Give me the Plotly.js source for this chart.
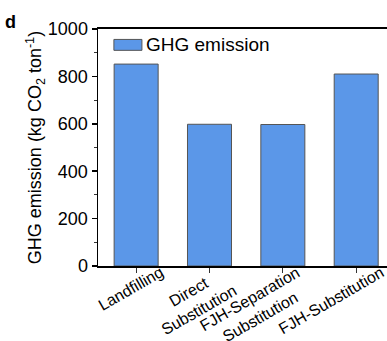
<!DOCTYPE html>
<html>
<head>
<meta charset="utf-8">
<script src="https://cdn.plot.ly/plotly-3.0.1.min.js"></script>
<style>html,body{margin:0;padding:0;background:#fff;}#chart{width:387px;height:341px;}</style>
</head>
<body>
<div id="chart"></div>
<script>
var categories = ["Landfilling", "Direct Substitution", "FJH-Separation Substitution", "FJH-Substitution"];
var categoryLabels = ["Landfilling", "Direct<br>Substitution", "FJH-Separation<br>Substitution", "FJH-Substitution"];
var ghgEmission = [852, 598, 597, 810];
var seriesName = "GHG emission";
var yTickVals = [0, 200, 400, 600, 800, 1000];
var yTickText = ["0", "200", "400", "600", "800", "1000"];

var font = "'Liberation Sans', Arial, sans-serif";
var barColor = "#5b97e8";
var barLine = "#555555";

var data = [{
  type: "bar",
  x: categories,
  y: ghgEmission,
  name: seriesName,
  width: 0.6,
  marker: {color: barColor, line: {color: barLine, width: 1}},
  showlegend: false
}];

var annotations = categories.map(function (c, i) {
  return {
    text: categoryLabels[i], xref: "x", yref: "paper", x: c, y: 0.022,
    xanchor: "right", yanchor: "top", xshift: 33, textangle: -30, align: "center",
    showarrow: false, font: {size: 16, family: font, color: "#000"}
  };
});
annotations.push({
  text: "<b>d</b>", xref: "paper", yref: "paper", x: -0.33, y: 1.08,
  xanchor: "left", yanchor: "top", showarrow: false, font: {size: 18, family: font, color: "#000"}
});
annotations.push({
  text: seriesName, xref: "paper", yref: "paper", x: 0.158, y: 0.935,
  xanchor: "left", yanchor: "middle", showarrow: false, font: {size: 19, family: font, color: "#000"}
});

var layout = {
  width: 387, height: 341,
  margin: {l: 98, r: 0, t: 29, b: 75},
  paper_bgcolor: "#fff", plot_bgcolor: "#fff",
  font: {family: font, color: "#000", size: 16},
  showlegend: false,
  xaxis: {
    type: "category",
    range: [-0.52, 3.42],
    showline: true, linecolor: "#000", linewidth: 2, mirror: true,
    ticks: "outside", ticklen: 5, tickwidth: 1, tickcolor: "#333",
    showticklabels: false,
    showgrid: false, zeroline: false
  },
  yaxis: {
    range: [0, 1000],
    tickvals: yTickVals, ticktext: yTickText,
    showline: true, linecolor: "#000", linewidth: 1.5,
    ticks: "outside", ticklen: 5, tickwidth: 1.5, tickcolor: "#000",
    minor: {dtick: 100, ticks: "outside", ticklen: 3, tickwidth: 1, tickcolor: "#333", showgrid: false},
    tickfont: {size: 18, family: font},
    showgrid: false, zeroline: false,
    title: {text: "GHG emission (kg CO<sub>2</sub> ton<sup>-1</sup>)", font: {size: 18, family: font}, standoff: 0}
  },
  shapes: [{
    type: "rect", xref: "paper", yref: "paper",
    x0: 0.055, x1: 0.152, y0: 0.91, y1: 0.956,
    fillcolor: barColor, line: {color: barLine, width: 1}
  }],
  annotations: annotations
};
Plotly.newPlot("chart", data, layout, {displayModeBar: false, staticPlot: true});
</script>
</body>
</html>
